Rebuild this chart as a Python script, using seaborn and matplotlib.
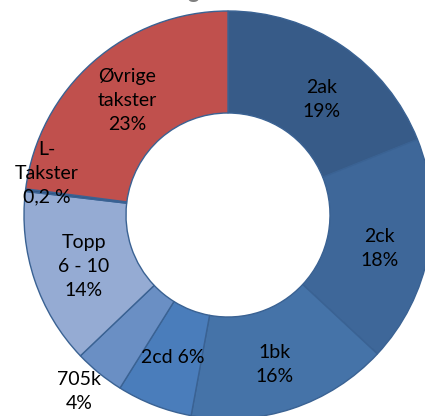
import numpy as np
import seaborn as sns
import matplotlib
matplotlib.use("Agg")
import matplotlib.pyplot as plt

# data, clockwise from 12 o'clock
labels = ["2ak\n19%", "2ck\n18%", "1bk\n16%", "2cd 6%", "705k\n4%",
          "Topp\n6 - 10\n14%", "L-\nTakster\n0,2 %", "Øvrige\ntakster\n23%"]
shares = [19, 18, 16, 6, 4, 14, 0.2, 23]

colors = ["#375B88", "#3E6799", "#4573A8", "#4A7DBB", "#6A8FC4",
          "#95ABD3", "#2E5280", "#C0504D"]
# label placement (radius in pie units, angle nudge in degrees)
label_r = [0.73, 0.76, 0.77, 0.75, 1.13, 0.75, 0.91, 0.75]
label_dtheta = [-5, -2, -1, 0, -1, 1, -6, 0]

sns.set_theme(style="white")
plt.rcParams["font.family"] = ["Lato", "DejaVu Sans"]

fig = plt.figure(figsize=(4.25, 4.16), dpi=100)
ax = fig.add_axes([0, 0, 1, 1])

wedges, _ = ax.pie(shares, colors=colors, startangle=90, counterclock=False,
                   radius=1.0,
                   wedgeprops=dict(width=0.5, edgecolor="#3A6293", linewidth=1.0))

for w, lab, r, dt in zip(wedges, labels, label_r, label_dtheta):
    ang = np.deg2rad((w.theta1 + w.theta2) / 2 + dt)
    ax.text(r * np.cos(ang), r * np.sin(ang), lab, ha="center", va="center",
            fontsize=14, color="black", linespacing=1.5)

# title mostly above the visible area
ax.text(-0.17, 1.062, "g", ha="center", va="baseline", fontsize=16,
        fontweight="bold", color="#808080")

ax.set_xlim(-228 / 204, (425 - 228) / 204)
ax.set_ylim(-(416 - 215) / 204, 215 / 204)
ax.set_aspect("equal", adjustable="datalim")
ax.axis("off")

fig.savefig("out.png", dpi=100)
